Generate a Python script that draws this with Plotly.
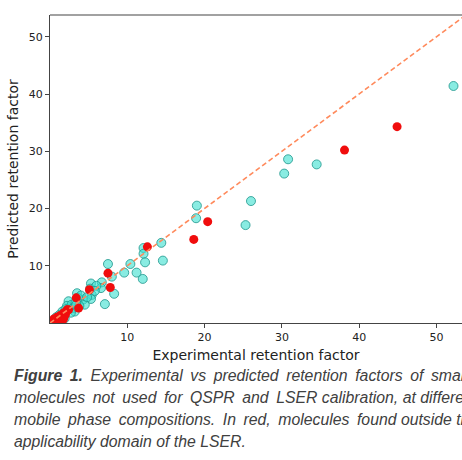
import plotly.graph_objects as go

# In-domain molecules (cyan)
cyan_x = [52.2, 34.5, 30.8, 30.3, 26.0, 25.3, 19.0, 18.9, 14.4, 14.6, 12.1, 12.1, 12.3, 12.0,
          11.2, 10.4, 9.6, 8.0, 7.5, 8.3, 7.1, 6.7, 6.6, 5.3, 5.2, 5.4, 5.3, 4.3, 3.5, 3.6,
          4.5, 3.2, 2.4, 2.2, 1.6, 0.5, 0.8, 1.0, 1.2, 1.4, 1.7, 2.0, 2.5, 2.8, 3.0, 3.3,
          2.7, 3.8, 4.0, 3.4, 1.9, 4.8, 6.0, 5.8]
cyan_y = [41.4, 27.7, 28.6, 26.1, 21.3, 17.1, 20.5, 18.3, 14.0, 10.9, 13.1, 12.1, 10.6, 7.7,
          8.8, 10.3, 8.8, 8.1, 10.3, 5.1, 3.3, 7.1, 6.1, 6.9, 6.0, 4.9, 4.2, 4.1, 5.2, 4.4,
          3.2, 2.0, 3.8, 3.0, 2.0, 0.5, 1.0, 0.6, 1.4, 1.1, 1.5, 2.4, 2.5, 3.2, 2.6, 3.6,
          1.8, 3.0, 4.8, 3.2, 0.8, 4.5, 6.5, 5.6]

# Molecules outside the LSER applicability domain (red)
red_x = [44.9, 38.1, 20.4, 18.6, 12.6, 7.5, 7.8, 5.1, 3.4, 3.7, 2.2, 1.8, 0.9, 0.5, 1.8,
         1.3, 2.0, 0.3, 1.0, 2.4, 1.7]
red_y = [34.3, 30.2, 17.7, 14.6, 13.3, 8.7, 6.2, 5.8, 4.4, 2.6, 2.3, 1.8, 1.0, 0.7, 0.9,
         1.3, 1.5, 0.3, 0.4, 2.3, 0.6]

# Ideal y = x line
diag = [0, 60]

x_ticks = [10, 20, 30, 40, 50]
y_ticks = [10, 20, 30, 40, 50]

caption_lines = [
    "<b>Figure 1.</b> Experimental vs predicted retention factors of small",
    "molecules not used for QSPR and LSER calibration, at different",
    "mobile phase compositions. In red, molecules found outside the",
    "applicability domain of the LSER.",
]

fig = go.Figure()
fig.add_trace(go.Scatter(
    x=cyan_x, y=cyan_y, mode="markers",
    marker=dict(size=9, color="rgba(64,224,208,0.62)",
                line=dict(color="rgba(30,150,140,0.8)", width=1)),
    showlegend=False))
fig.add_trace(go.Scatter(
    x=red_x, y=red_y, mode="markers",
    marker=dict(size=9, color="#f00d0d", line=dict(width=0)),
    showlegend=False))
fig.add_trace(go.Scatter(
    x=diag, y=diag, mode="lines",
    line=dict(color="#ff8a5c", width=1.6, dash="5px,3px"),
    showlegend=False))

axis_common = dict(
    showgrid=False, zeroline=False, showline=True, linecolor="#444", linewidth=1.2,
    ticks="outside", ticklen=4, tickwidth=1, tickcolor="#444",
    tickfont=dict(family="DejaVu Sans", size=11, color="#222"),
)
fig.update_xaxes(range=[0, 53.3], tickvals=x_ticks,
                 title=dict(text="Experimental retention factor",
                            font=dict(family="DejaVu Sans", size=14, color="#222"),
                            standoff=6),
                 **axis_common)
fig.update_yaxes(range=[0, 53.8], tickvals=y_ticks,
                 title=dict(text="Predicted retention factor",
                            font=dict(family="DejaVu Sans", size=14, color="#222"),
                            standoff=6),
                 **axis_common)

# top spine
fig.add_shape(type="line", xref="paper", yref="paper", x0=0, x1=1.05, y0=1, y1=1,
              line=dict(color="#444", width=1.2))

# justified paragraph: widen the word gaps of all but the last line
extra_gaps = [8, 6, 6, 0]
for i, line in enumerate(caption_lines):
    parts = line.split(" ")
    txt = parts[0]
    for k, w in enumerate(parts[1:]):
        txt += (" \u2009" if k < extra_gaps[i] else " ") + w
    fig.add_annotation(
        text="<i>" + txt + "</i>", xref="paper", yref="paper", x=0, xanchor="left",
        y=0, yanchor="middle", yshift=-52 - 22 * i, xshift=-38,
        showarrow=False, align="left",
        font=dict(family="Liberation Sans", size=15.8, color="#404040"))

fig.update_layout(
    width=462, height=460,
    margin=dict(l=50, r=0, t=15, b=137),
    plot_bgcolor="white", paper_bgcolor="white",
)

fig.write_html(
    "out.html",
    config={"displayModeBar": False},
    post_script="document.body.style.margin='0';document.body.style.overflow='hidden';",
)
